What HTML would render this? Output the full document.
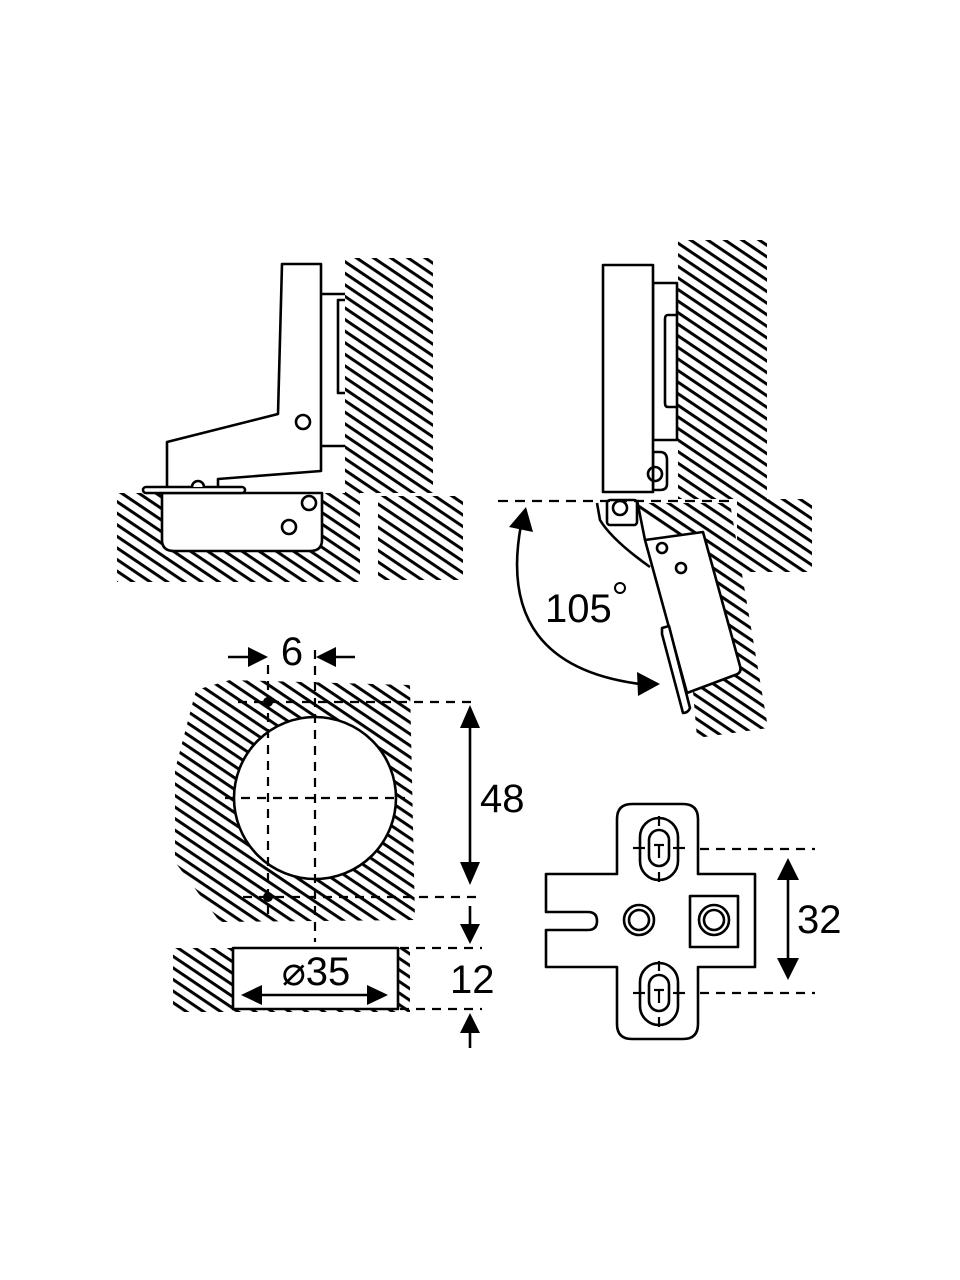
<!DOCTYPE html>
<html><head><meta charset="utf-8"><style>html,body{margin:0;padding:0;background:#fff}svg{display:block}</style></head>
<body>
<svg width="960" height="1280" viewBox="0 0 960 1280" xmlns="http://www.w3.org/2000/svg" font-family="Liberation Sans, sans-serif">
<defs>
<pattern id="h" patternUnits="userSpaceOnUse" width="40" height="9.6" patternTransform="rotate(34)">
<rect width="40" height="9.6" fill="#fff"/><line x1="0" y1="4.8" x2="40" y2="4.8" stroke="#000" stroke-width="3"/>
</pattern>
</defs>
<g stroke="#000" stroke-width="2.6" fill="none" stroke-linejoin="round">
<!-- TOP LEFT -->
<rect x="345" y="258" width="88" height="235" fill="url(#h)" stroke="none"/>
<rect x="117" y="493" width="243" height="89" fill="url(#h)" stroke="none"/>
<rect x="378" y="496" width="85" height="84" fill="url(#h)" stroke="none"/>
<path d="M162 493 L322 493 L322 540 Q322 551 310 551 L174 551 Q162 551 162 540 Z" fill="#fff"/>
<path d="M282 264 L321 264 L321 471 L218 479 L218 487 L167 487 L167 442 L278 414 Z" fill="#fff" stroke="none"/>
<path d="M218 487 L218 479 L321 471 L321 264 L282 264 L278 414 L167 442 L167 487"/>
<rect x="143" y="487" width="102" height="6" rx="3" fill="#fff"/>
<path d="M192 487 A6 6 0 0 1 204 487" fill="#fff"/>
<line x1="321" y1="294" x2="345" y2="294"/>
<line x1="321" y1="446" x2="345" y2="446"/>
<path d="M345 300 L338 300 L338 393 L345 393"/>
<circle cx="303" cy="422" r="7"/>
<circle cx="309" cy="503" r="7"/>
<circle cx="289" cy="527" r="7"/>
<!-- TOP RIGHT -->
<rect x="678" y="240" width="89" height="259" fill="url(#h)" stroke="none"/>
<rect x="737" y="499" width="75" height="73" fill="url(#h)" stroke="none"/>
<path d="M632 503 L730 503 L768 728 L697 738 L680 540 Z" fill="url(#h)" stroke="none"/>
<path d="M653 283 L677 283 L677 440 L653 440 Z" fill="#fff"/>
<path d="M653 452 L660 452 Q667 452 667 460 L667 484 Q667 490 660 490 L653 490 Z" fill="#fff"/>
<rect x="603" y="265" width="50" height="227" fill="#fff"/>
<path d="M677 315 L668 315 Q665 315 665 319 L665 403 Q665 407 668 407 L677 407"/>
<circle cx="655" cy="474" r="7"/>
<rect x="607" y="500" width="30" height="25" rx="3" fill="#fff"/>
<circle cx="620" cy="508" r="7"/>
<path d="M597 503 L600 520 Q612 540 650 567" />
<path d="M637 500 L645 540"/>
<path d="M645 540 L703 532 L740 666 Q742 673 735 675 L687 693 Z" fill="#fff"/>
<circle cx="662" cy="548" r="5"/>
<circle cx="681" cy="568" r="5"/>
<path d="M662 628 L669 626 L690 708 Q688 713 683 713 L662 634 Z" fill="#fff"/>
<line x1="498" y1="501" x2="735" y2="501" stroke-dasharray="10 7" stroke-width="2.2"/>
<path d="M521 525 Q495 665 640 684" />
<!-- BOTTOM LEFT -->
<path d="M196 690 L230 680 L410 685 L415 920 L220 922 L175 862 L175 770 Z" fill="url(#h)" stroke="none"/>
<circle cx="315" cy="798" r="81" fill="#fff"/>
<rect x="173" y="948" width="237" height="64" fill="url(#h)" stroke="none"/>
<rect x="233" y="948" width="165" height="61" fill="#fff"/>
<g stroke-dasharray="9 7" stroke-width="2.2">
<line x1="315" y1="650" x2="315" y2="942"/>
<line x1="268" y1="665" x2="268" y2="920"/>
<line x1="238" y1="702" x2="478" y2="702"/>
<line x1="243" y1="897" x2="478" y2="897"/>
<line x1="225" y1="798" x2="405" y2="798"/>
<line x1="400" y1="948" x2="482" y2="948"/>
<line x1="400" y1="1009" x2="482" y2="1009"/>
</g>
<line x1="228" y1="657" x2="255" y2="657"/>
<line x1="330" y1="657" x2="355" y2="657"/>
<line x1="470" y1="720" x2="470" y2="870"/>
<line x1="470" y1="906" x2="470" y2="930"/>
<line x1="470" y1="1025" x2="470" y2="1048"/>
<line x1="250" y1="995" x2="378" y2="995"/>
<!-- BOTTOM RIGHT -->
<path d="M632 804 L683 804 Q698 804 698 819 L698 874 L755 874 L755 967 L698 967 L698 1024 Q698 1039 683 1039 L632 1039 Q617 1039 617 1024 L617 967 L546 967 L546 930 L588 930 Q597 930 597 921 Q597 912 588 912 L546 912 L546 874 L617 874 L617 819 Q617 804 632 804 Z" fill="#fff"/>
<rect x="640" y="818" width="38" height="62" rx="19"/>
<rect x="649" y="830" width="20" height="36" rx="10"/>
<rect x="640" y="963" width="38" height="62" rx="19"/>
<rect x="649" y="975" width="20" height="36" rx="10"/>
<g stroke-width="2.2">
<line x1="659" y1="816" x2="659" y2="826"/><line x1="659" y1="872" x2="659" y2="882"/>
<line x1="633" y1="848" x2="645" y2="848"/><line x1="673" y1="848" x2="685" y2="848"/>
<line x1="654" y1="845" x2="664" y2="845"/><line x1="659" y1="845" x2="659" y2="858"/>
<line x1="659" y1="961" x2="659" y2="971"/><line x1="659" y1="1017" x2="659" y2="1027"/>
<line x1="633" y1="993" x2="645" y2="993"/><line x1="673" y1="993" x2="685" y2="993"/>
<line x1="654" y1="990" x2="664" y2="990"/><line x1="659" y1="990" x2="659" y2="1003"/>
</g>
<circle cx="639" cy="920" r="15"/><circle cx="639" cy="920" r="10"/>
<rect x="690" y="896" width="48" height="51"/>
<circle cx="714" cy="920" r="15"/><circle cx="714" cy="920" r="10"/>
<g stroke-dasharray="9 7" stroke-width="2.2">
<line x1="700" y1="849" x2="815" y2="849"/>
<line x1="700" y1="993" x2="815" y2="993"/>
</g>
<line x1="788" y1="875" x2="788" y2="965"/>
</g>
<g fill="#000">
<polygon points="509,527 526,507 533,532"/>
<polygon points="637,672 660,684 638,696"/>
<circle cx="620" cy="588" r="5" fill="none" stroke="#000" stroke-width="2"/>
<circle cx="268" cy="702" r="5"/><circle cx="268" cy="897" r="5"/>
<polygon points="268,657 248,647 248,667"/>
<polygon points="316,657 336,647 336,667"/>
<polygon points="470,705 460,728 480,728"/>
<polygon points="470,885 460,862 480,862"/>
<polygon points="470,944 460,924 480,924"/>
<polygon points="470,1013 460,1033 480,1033"/>
<polygon points="241,995 262,985 262,1005"/>
<polygon points="388,995 367,985 367,1005"/>
<polygon points="788,858 777,880 799,880"/>
<polygon points="788,980 777,958 799,958"/>
</g>
<g font-size="40" fill="#000">
<text x="545" y="622">105</text>
<text x="292" y="665" text-anchor="middle">6</text>
<text x="480" y="812">48</text>
<text x="450" y="993">12</text>
<text x="316" y="985" text-anchor="middle">⌀35</text>
<text x="797" y="933">32</text>
</g>
</svg>
</body></html>
